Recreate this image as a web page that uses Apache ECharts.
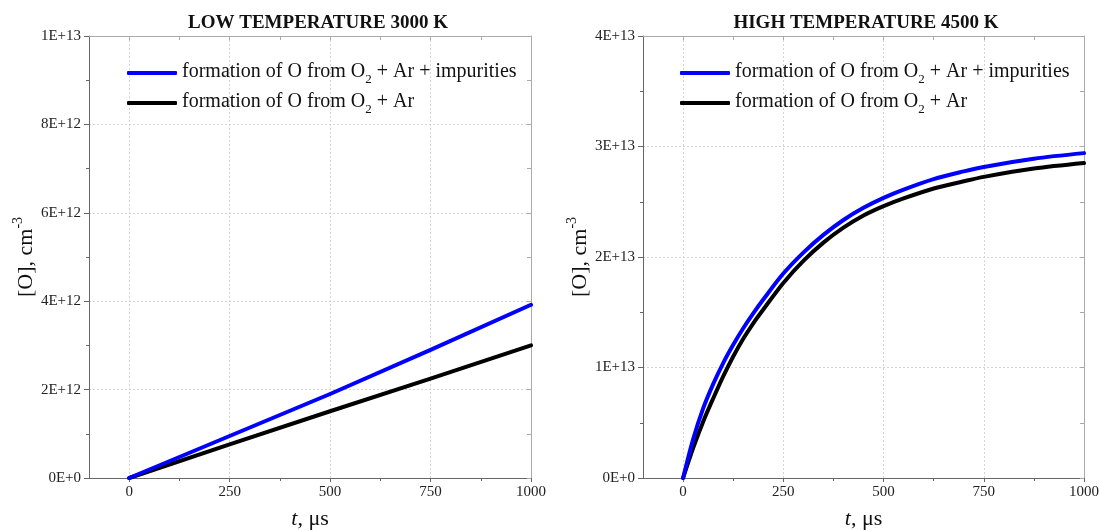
<!DOCTYPE html>
<html>
<head>
<meta charset="utf-8">
<script src="https://cdn.jsdelivr.net/npm/echarts@6/dist/echarts.min.js"></script>
<style>
html,body{margin:0;padding:0;background:#fff;}
#c{width:1099px;height:531px;}
</style>
</head>
<body>
<div id="c"></div>
<script>
// ---- data ----
const seriesNames = ['formation of O from O2 + Ar + impurities', 'formation of O from O2 + Ar'];
const panelTitles = ['LOW TEMPERATURE 3000 K', 'HIGH TEMPERATURE 4500 K'];
const xTickLabels = [0, 250, 500, 750, 1000];
const xMinorTicks = [125, 375, 625, 875];
const tLow = [0, 250, 500, 750, 1000];
const lowImpurities = [0, 0.95e12, 1.90e12, 2.90e12, 3.92e12];
const lowPure = [0, 0.76e12, 1.51e12, 2.25e12, 3.00e12];
const tHigh = [0, 25, 50, 75, 100, 125, 150, 175, 200, 250, 300, 350, 400, 450, 500, 550, 625, 700, 750, 875, 1000];
const highImpurities = [0, 0.35e13, 0.63e13, 0.85e13, 1.04e13, 1.205e13, 1.355e13, 1.49e13, 1.615e13, 1.85e13, 2.04e13, 2.20e13, 2.335e13, 2.445e13, 2.535e13, 2.61e13, 2.705e13, 2.775e13, 2.815e13, 2.89e13, 2.94e13];
const highPure = [0, 0.27e13, 0.51e13, 0.72e13, 0.92e13, 1.10e13, 1.26e13, 1.40e13, 1.525e13, 1.765e13, 1.965e13, 2.13e13, 2.265e13, 2.375e13, 2.46e13, 2.53e13, 2.62e13, 2.685e13, 2.725e13, 2.80e13, 2.85e13];
const yMaxLow = 1e13, yIntervalLow = 2e12;
const yMaxHigh = 4e13, yIntervalHigh = 1e13;

// ---- chart ----
const FONT = 'Liberation Serif';
const allX = xTickLabels.concat(xMinorTicks).sort((a, b) => a - b);
const zip = (xs, ys) => xs.map((x, i) => [x, ys[i]]);
const fmtY = v => v.toExponential(0).toUpperCase();

const grids = [
  {left: 89, right: 568, top: 36, bottom: 53, outerBoundsMode: 'none', containLabel: false},
  {left: 643, right: 15, top: 36, bottom: 53, outerBoundsMode: 'none', containLabel: false}
];

const xAxes = [], yAxes = [];
[0, 1].forEach(g => {
  // main bottom axis with labels + grid lines
  xAxes.push({
    type: 'value', gridIndex: g, min: -100, max: 1000, position: 'bottom',
    name: '{i|t}{n|, μs}', nameLocation: 'middle', nameGap: 30,
    nameTextStyle: {rich: {
      i: {fontFamily: FONT, fontSize: 22, fontStyle: 'italic', color: '#111'},
      n: {fontFamily: FONT, fontSize: 22, color: '#111'}
    }},
    axisLine: {show: true, onZero: false, lineStyle: {color: '#666', width: 1}},
    axisTick: {show: true, inside: false, length: 4, customValues: xTickLabels, lineStyle: {color: '#666'}},
    axisLabel: {customValues: xTickLabels, formatter: v => String(v), margin: 7, fontFamily: FONT, fontSize: 15, color: '#222'},
    splitLine: {show: true, lineStyle: {color: '#d4d4d4', type: [2, 2], width: 1}}
  });
  // minor bottom ticks
  xAxes.push({
    type: 'value', gridIndex: g, min: -100, max: 1000, position: 'bottom',
    axisLine: {show: false, onZero: false},
    axisTick: {show: true, inside: false, length: 3, customValues: xMinorTicks, lineStyle: {color: '#666'}},
    axisLabel: {show: false, customValues: xMinorTicks},
    splitLine: {show: false}
  });
  // top mirror axis
  xAxes.push({
    type: 'value', gridIndex: g, min: -100, max: 1000, position: 'top',
    axisLine: {show: true, onZero: false, lineStyle: {color: '#aaa', width: 1}},
    axisTick: {show: true, inside: true, length: 4, customValues: allX, lineStyle: {color: '#aaa'}},
    axisLabel: {show: false, customValues: allX},
    splitLine: {show: false}
  });
  const ymax = g === 0 ? yMaxLow : yMaxHigh;
  const yint = g === 0 ? yIntervalLow : yIntervalHigh;
  yAxes.push({
    type: 'value', gridIndex: g, min: 0, max: ymax, interval: yint, position: 'left',
    name: '{n|[O], cm}{s|-3}', nameLocation: 'middle', nameGap: 52, nameRotate: 90,
    nameTextStyle: {rich: {
      n: {fontFamily: FONT, fontSize: 22, color: '#111', lineHeight: 26, verticalAlign: 'bottom'},
      s: {fontFamily: FONT, fontSize: 14, color: '#111', lineHeight: 14, verticalAlign: 'top'}
    }},
    axisLine: {show: true, onZero: false, lineStyle: {color: '#666', width: 1}},
    axisTick: {show: true, inside: false, length: 5, lineStyle: {color: '#666'}},
    minorTick: {show: true, splitNumber: 2, length: 3, lineStyle: {color: '#666'}},
    axisLabel: {formatter: fmtY, margin: 8, fontFamily: FONT, fontSize: 15, color: '#222'},
    splitLine: {show: true, lineStyle: {color: '#d4d4d4', type: [2, 2], width: 1}}
  });
  yAxes.push({
    type: 'value', gridIndex: g, min: 0, max: ymax, interval: yint, position: 'right',
    axisLine: {show: true, onZero: false, lineStyle: {color: '#aaa', width: 1}},
    axisTick: {show: true, inside: true, length: 4, lineStyle: {color: '#aaa'}},
    minorTick: {show: true, splitNumber: 2, length: 4, lineStyle: {color: '#aaa'}},
    axisLabel: {show: false},
    splitLine: {show: false}
  });
});

const lineSeries = (name, data, g, color, smooth) => ({
  type: 'line', name: name, data: data,
  xAxisIndex: g * 3, yAxisIndex: g * 2,
  showSymbol: false, symbol: 'none', smooth: smooth,
  lineStyle: {color: color, width: 4, cap: 'round', join: 'round'}, itemStyle: {color: color},
  silent: true, animation: false
});

const legendFormatter = name => {
  const i = name.indexOf('O2');
  return '{a|' + name.slice(0, i + 1) + '}{s|2}{a|' + name.slice(i + 2) + '}';
};
const legendCommon = {
  orient: 'vertical', top: 57, itemWidth: 50, itemHeight: 4, itemGap: 6,
  icon: 'roundRect', selectedMode: false,
  data: [seriesNames[0], seriesNames[1]],
  formatter: legendFormatter,
  textStyle: {rich: {
    a: {fontFamily: FONT, fontSize: 20, color: '#111', lineHeight: 22, verticalAlign: 'top'},
    s: {fontFamily: FONT, fontSize: 13, color: '#111', lineHeight: 13, verticalAlign: 'top', padding: [11, 0, 0, 0]}
  }}
};

const option = {
  backgroundColor: '#fff',
  animation: false,
  title: [
    {text: panelTitles[0], left: 313, top: 9, textAlign: 'center',
     textStyle: {fontFamily: FONT, fontSize: 19, fontWeight: 'bold', color: '#111'}},
    {text: panelTitles[1], left: 861, top: 9, textAlign: 'center',
     textStyle: {fontFamily: FONT, fontSize: 19, fontWeight: 'bold', color: '#111'}}
  ],
  legend: [
    Object.assign({}, legendCommon, {left: 122}),
    Object.assign({}, legendCommon, {left: 675})
  ],
  grid: grids,
  xAxis: xAxes,
  yAxis: yAxes,
  series: [
    lineSeries(seriesNames[1], zip(tLow, lowPure), 0, '#000000', false),
    lineSeries(seriesNames[0], zip(tLow, lowImpurities), 0, '#0000ff', false),
    lineSeries(seriesNames[1], zip(tHigh, highPure), 1, '#000000', 0.3),
    lineSeries(seriesNames[0], zip(tHigh, highImpurities), 1, '#0000ff', 0.3)
  ]
};

const chart = echarts.init(document.getElementById('c'), null, {renderer: 'canvas'});
chart.setOption(option);
</script>
</body>
</html>
